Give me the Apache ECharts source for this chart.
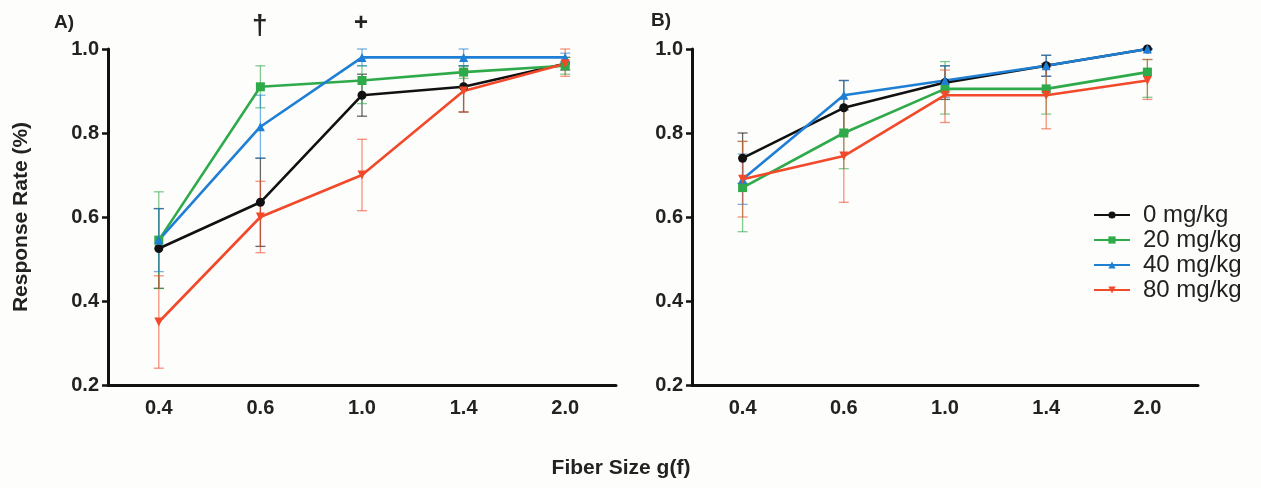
<!DOCTYPE html>
<html>
<head>
<meta charset="utf-8">
<script src="https://cdn.jsdelivr.net/npm/echarts@6/dist/echarts.min.js"></script>
<style>html,body{margin:0;padding:0;background:#fdfdfb;}#c{width:1261px;height:488px;}</style>
</head>
<body>
<div id="c"></div>
<script>
const categories = ['0.4', '0.6', '1.0', '1.4', '2.0'];
const yTicks = [0.2, 0.4, 0.6, 0.8, 1.0];
const seriesNames = ['0 mg/kg', '20 mg/kg', '40 mg/kg', '80 mg/kg'];

// Panel A
const A_0 = [0.525, 0.635, 0.89, 0.91, 0.965];
const A_0_lo = [0.43, 0.53, 0.84, 0.85, 0.95];
const A_0_hi = [0.62, 0.74, 0.94, 0.96, 0.98];
const A_20 = [0.545, 0.91, 0.925, 0.945, 0.96];
const A_20_lo = [0.43, 0.86, 0.87, 0.93, 0.94];
const A_20_hi = [0.66, 0.96, 0.96, 0.96, 0.98];
const A_40 = [0.545, 0.815, 0.98, 0.98, 0.98];
const A_40_lo = [0.47, 0.74, 0.96, 0.96, 0.97];
const A_40_hi = [0.62, 0.89, 1.0, 1.0, 0.99];
const A_80 = [0.35, 0.60, 0.70, 0.90, 0.965];
const A_80_lo = [0.24, 0.515, 0.615, 0.85, 0.935];
const A_80_hi = [0.46, 0.685, 0.785, 0.95, 1.0];

// Panel B
const B_0 = [0.74, 0.86, 0.92, 0.96, 1.0];
const B_0_lo = [0.68, 0.80, 0.88, 0.935, 1.0];
const B_0_hi = [0.80, 0.925, 0.96, 0.985, 1.0];
const B_20 = [0.67, 0.80, 0.905, 0.905, 0.945];
const B_20_lo = [0.565, 0.715, 0.845, 0.845, 0.885];
const B_20_hi = [0.78, 0.86, 0.97, 0.965, 0.975];
const B_40 = [0.69, 0.89, 0.925, 0.96, 1.0];
const B_40_lo = [0.63, 0.855, 0.885, 0.935, 1.0];
const B_40_hi = [0.75, 0.925, 0.96, 0.985, 1.0];
const B_80 = [0.69, 0.745, 0.89, 0.89, 0.925];
const B_80_lo = [0.60, 0.635, 0.825, 0.81, 0.88];
const B_80_hi = [0.78, 0.855, 0.95, 0.965, 0.975];

const colors = ['#111111', '#2eaa4a', '#1f7fd4', '#f2492a'];
const errColors = ['rgba(20,20,20,0.65)', 'rgba(46,170,74,0.6)', 'rgba(31,127,212,0.6)', 'rgba(242,73,42,0.6)'];
const symbols = ['circle', 'rect', 'triangle', 'path://M0,0 L10,0 L5,9 Z'];

const panels = [
  {means: [A_0, A_20, A_40, A_80], lo: [A_0_lo, A_20_lo, A_40_lo, A_80_lo], hi: [A_0_hi, A_20_hi, A_40_hi, A_80_hi]},
  {means: [B_0, B_20, B_40, B_80], lo: [B_0_lo, B_20_lo, B_40_lo, B_80_lo], hi: [B_0_hi, B_20_hi, B_40_hi, B_80_hi]}
];

const font = 'Liberation Sans, Arial, sans-serif';
const series = [];
panels.forEach((p, pi) => {
  for (let s = 0; s < 4; s++) {
    const errData = categories.map((c, i) => [i, p.lo[s][i], p.hi[s][i]]);
    series.push({
      type: 'custom',
      xAxisIndex: pi, yAxisIndex: pi,
      z: 1,
      silent: true,
      data: errData,
      renderItem: function (params, api) {
        const x = api.value(0);
        const lo = api.coord([x, api.value(1)]);
        const hi = api.coord([x, api.value(2)]);
        const hw = 5;
        const st = {stroke: errColors[s], lineWidth: 1.3};
        return {type: 'group', children: [
          {type: 'line', shape: {x1: lo[0], y1: lo[1], x2: hi[0], y2: hi[1]}, style: st},
          {type: 'line', shape: {x1: lo[0] - hw, y1: lo[1], x2: lo[0] + hw, y2: lo[1]}, style: st},
          {type: 'line', shape: {x1: hi[0] - hw, y1: hi[1], x2: hi[0] + hw, y2: hi[1]}, style: st}
        ]};
      }
    });
  }
  for (let s = 0; s < 4; s++) {
    series.push({
      name: seriesNames[s],
      type: 'line',
      xAxisIndex: pi, yAxisIndex: pi,
      z: 3,
      data: p.means[s],
      symbol: symbols[s],
      symbolSize: 9,
      showSymbol: true,
      lineStyle: {color: colors[s], width: 2.6},
      itemStyle: {color: colors[s]},
      emphasis: {disabled: true},
      animation: false
    });
  }
});

function xAxisCfg(gi) {
  return {
    type: 'category', gridIndex: gi, data: categories, boundaryGap: true,
    axisLine: {lineStyle: {color: '#111', width: 3}},
    axisTick: {alignWithLabel: true, length: 6, lineStyle: {color: '#111', width: 2.5}},
    axisLabel: {color: '#222', fontSize: 20, fontWeight: 'bold', fontFamily: font, margin: 13}
  };
}
function yAxisCfg(gi, withName) {
  const c = {
    type: 'value', gridIndex: gi, min: 0.2, max: 1.0, interval: 0.2,
    splitLine: {show: false},
    axisLine: {show: true, lineStyle: {color: '#111', width: 3}},
    axisTick: {show: true, length: 6, lineStyle: {color: '#111', width: 2.5}},
    axisLabel: {color: '#222', fontSize: 20, fontWeight: 'bold', fontFamily: font, margin: 9,
      formatter: v => yTicks.indexOf(Math.round(v * 10) / 10) >= 0 ? v.toFixed(1) : ''}
  };
  if (withName) {
    Object.assign(c, {name: 'Response Rate (%)', nameLocation: 'middle', nameGap: 76,
      nameTextStyle: {color: '#222', fontSize: 21, fontWeight: 'bold', fontFamily: font}});
  }
  return c;
}

const chart = echarts.init(document.getElementById('c'));
chart.setOption({
  animation: false,
  backgroundColor: '#fdfdfb',
  grid: [
    {left: 108, top: 49, width: 508, height: 336},
    {left: 692, top: 49, width: 506, height: 336}
  ],
  xAxis: [xAxisCfg(0), xAxisCfg(1)],
  yAxis: [yAxisCfg(0, true), yAxisCfg(1, false)],
  legend: {
    data: seriesNames,
    orient: 'vertical',
    left: 1088, top: 198,
    itemWidth: 36, itemHeight: 9, itemGap: 1,
    textStyle: {color: '#222', fontSize: 24, fontFamily: font, padding: [0, 0, 0, 8]},
    selectedMode: false
  },
  graphic: [
    {type: 'text', left: 54, top: 13, style: {text: 'A)', font: 'bold 19px ' + font, fill: '#222'}},
    {type: 'text', left: 651, top: 11, style: {text: 'B)', font: 'bold 19px ' + font, fill: '#222'}},
    {type: 'text', left: 252, top: 12, style: {text: '\u2020', font: 'bold 28px ' + font, fill: '#222'}},
    {type: 'text', left: 354, top: 11, style: {text: '+', font: 'bold 24px ' + font, fill: '#222'}},
    {type: 'text', x: 621, y: 468, style: {text: 'Fiber Size g(f)', font: 'bold 21px ' + font, fill: '#222', align: 'center', verticalAlign: 'middle'}}
  ],
  series: series
});
</script>
</body>
</html>
